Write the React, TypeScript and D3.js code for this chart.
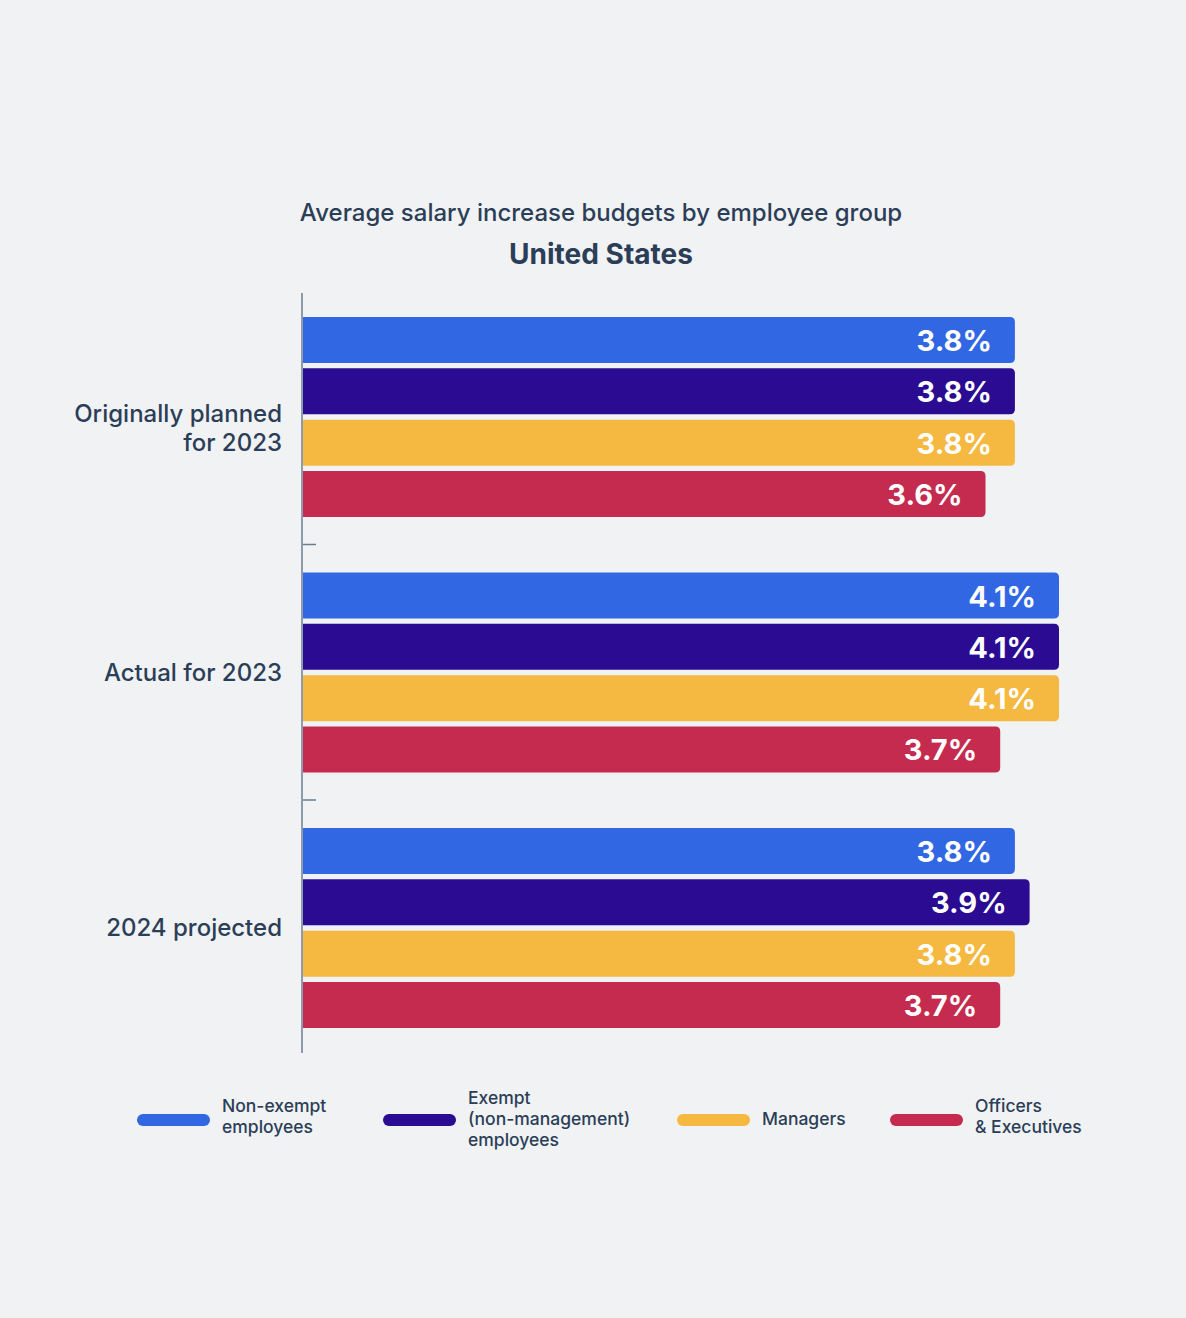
import React, { useEffect } from "react";
import * as d3 from "d3";

const categories = ["Originally planned\nfor 2023", "Actual for 2023", "2024 projected"];
const seriesNames = [
  "Non-exempt\nemployees",
  "Exempt\n(non-management)\nemployees",
  "Managers",
  "Officers\n& Executives",
];
const nonExempt = [3.8, 4.1, 3.8];
const exempt = [3.8, 4.1, 3.9];
const managers = [3.8, 4.1, 3.8];
const officers = [3.6, 3.7, 3.7];
const seriesValues = [nonExempt, exempt, managers, officers];
const colors = ["#3167E3", "#2A0B92", "#F5B841", "#C42B4F"];

const W = 1186;
const H = 1318;
const BG = "#F0F2F4";
const TEXT = "#2C3E57";
const FONT = "Inter, 'Noto Sans', sans-serif";

function roundedRight(x0: number, y: number, w: number, h: number, r: number) {
  const x1 = x0 + w;
  return `M${x0},${y}H${x1 - r}Q${x1},${y} ${x1},${y + r}V${y + h - r}Q${x1},${y + h} ${x1 - r},${y + h}H${x0}Z`;
}

export default function App() {
  useEffect(() => {
    document.body.style.margin = "0";
    document.body.style.background = BG;
  }, []);

  const axisX = 302;
  const axisTop = 293;
  const axisBottom = 1053;
  const bandStart = 289;
  const bandStep = 255.5;
  const x = d3.scaleLinear().domain([-1.05, 4.1]).range([axisX, 1059]);
  const y0 = d3
    .scaleBand<number>()
    .domain(d3.range(categories.length))
    .range([bandStart, bandStart + bandStep * categories.length])
    .paddingInner(0)
    .paddingOuter(0);
  const y1 = d3
    .scaleBand<number>()
    .domain(d3.range(seriesNames.length))
    .range([28, 228])
    .paddingInner(0.103)
    .paddingOuter(0);

  const legendX = [137, 383, 677, 890];

  return (
    <svg width={W} height={H} style={{ display: "block", background: BG, fontFamily: FONT }}>
      <rect width={W} height={H} fill={BG} />
      <text x={601} y={221} textAnchor="middle" fontSize={24} fontWeight={500} fill={TEXT}>
        Average salary increase budgets by employee group
      </text>
      <text x={601} y={264} textAnchor="middle" fontSize={28} fontWeight={700} fill={TEXT}>
        United States
      </text>

      {categories.map((cat, ci) => {
        const gy = y0(ci)!;
        const lines = cat.split("\n");
        const cy = gy + 28 + 100;
        return (
          <g key={ci}>
            {lines.map((ln, li) => (
              <text
                key={li}
                x={282}
                y={lines.length > 1 ? cy - 3 + li * 29 + 8 : cy + 8}
                textAnchor="end"
                fontSize={24}
                fontWeight={500}
                fill={TEXT}
              >
                {ln}
              </text>
            ))}
            {seriesValues.map((vals, si) => {
              const by = gy + y1(si)!;
              const bh = y1.bandwidth();
              const xe = x(vals[ci]);
              return (
                <g key={si}>
                  <path d={roundedRight(axisX, by, xe - axisX, bh, 5)} fill={colors[si]} />
                  <text
                    x={xe - 23}
                    y={by + bh / 2 + 11}
                    textAnchor="end"
                    fontSize={29}
                    fontWeight={700}
                    fill="#FFFFFF"
                  >
                    {vals[ci].toFixed(1)}%
                  </text>
                </g>
              );
            })}
            {ci > 0 && <line x1={axisX} x2={axisX + 14} y1={gy} y2={gy} stroke="#6B7C91" strokeWidth={1.5} />}
          </g>
        );
      })}
      <line x1={axisX} x2={axisX} y1={axisTop} y2={axisBottom} stroke="#8E9BAB" strokeWidth={2} />

      {seriesNames.map((name, si) => {
        const lines = name.split("\n");
        const lx = legendX[si];
        const cy = 1120;
        const textCy = lines.length === 2 ? cy - 4 : cy - 1;
        return (
          <g key={si}>
            <rect x={lx} y={cy - 6} width={73} height={12} rx={6} fill={colors[si]} />
            {lines.map((ln, li) => (
              <text
                key={li}
                x={lx + 85}
                y={textCy + (li - (lines.length - 1) / 2) * 21 + 6}
                fontSize={17.5}
                fontWeight={500}
                fill={TEXT}
              >
                {ln}
              </text>
            ))}
          </g>
        );
      })}
    </svg>
  );
}
